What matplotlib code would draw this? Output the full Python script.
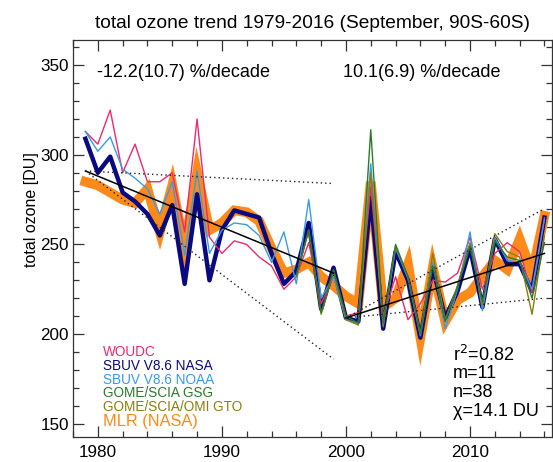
import numpy as np
import matplotlib
matplotlib.use("Agg")
import matplotlib.pyplot as plt
from matplotlib.ticker import MultipleLocator

plt.rcParams['font.family'] = ['Liberation Sans', 'DejaVu Sans']

years = list(range(1979, 2017))
years_gome = list(range(1996, 2017))

woudc = [313, 306, 325, 290, 306, 285, 285, 290, 257, 320, 254, 245, 252, 250, 243,
         238, 225, 232, 251, 217, 232, 210, 212, 282, 210, 232, 208, 217, 230, 229,
         234, 254, 225, 245, 251, 246, 223, 265]
sbuv_nasa = [309, 290, 299, 279, 274, 267, 255, 272, 228, 278, 230, 258, 269, 267, 265,
             245, 228, 235, 262, 214, 237, 209, 207, 276, 203, 246, 230, 198, 237, 209,
             224, 248, 215, 253, 239, 239, 224, 265]
sbuv_noaa = [313, 302, 310, 292, 287, 281, 267, 285, 244, 291, 245, 258, 262, 261, 255,
             240, 257, 228, 275, 220, 232, 208, 206, 295, 205, 248, 231, 199, 240, 203,
             225, 257, 213, 254, 241, 240, 225, 264]
gsg = [233, 258, 212, 236, 210, 206, 314, 206, 250, 232, 200, 238, 207, 226, 249,
       218, 252, 243, 241, 220, 251]
gto = [232, 258, 211, 235, 208, 205, 290, 204, 249, 232, 200, 245, 208, 227, 251,
       216, 256, 246, 243, 211, 255]
mlr = [285, 283, 279, 275, 273, 281, 257, 283, 248, 290, 258, 262, 269, 268, 263,
       248, 234, 236, 240, 232, 227, 221, 217, 285, 215, 220, 239, 198, 237, 207,
       219, 223, 232, 241, 236, 253, 234, 266]

pre_years = [1979, 1999]
pre_fit = [291, 234]
pre_upper = [291, 284]
pre_lower = [291, 186]
post_years = [2000, 2016]
post_fit = [209, 245]
post_upper = [209, 270]
post_lower = [209, 220]

legend_labels = ["WOUDC", "SBUV V8.6 NASA", "SBUV V8.6 NOAA", "GOME/SCIA GSG",
                 "GOME/SCIA/OMI GTO", "MLR (NASA)"]
c_woudc = "#ee2a6e"
c_nasa = "#0a0a80"
c_noaa = "#3a9ae8"
c_gsg = "#2a7a2a"
c_gto = "#8a7d12"
c_mlr = "#ff8a1a"
colors = [c_woudc, c_nasa, c_noaa, c_gsg, c_gto, c_mlr]

fig = plt.figure(figsize=(5.53, 4.62), dpi=100)
ax = fig.add_axes([0.132, 0.054, 0.866, 0.859])

ax.plot(years, mlr, color=c_mlr, lw=7, solid_joinstyle='miter', zorder=2)
ax.plot(years, sbuv_nasa, color=c_nasa, lw=3.2, zorder=3)
ax.plot(years, woudc, color=c_woudc, lw=1.0, zorder=4)
ax.plot(years, sbuv_noaa, color=c_noaa, lw=1.0, zorder=4)
ax.plot(years_gome, gto, color=c_gto, lw=1.0, zorder=4)
ax.plot(years_gome, gsg, color=c_gsg, lw=1.0, zorder=4)

dot = (0, (1, 2.2))
ax.plot(pre_years, pre_fit, color='black', lw=1.1, zorder=6)
ax.plot(pre_years, pre_upper, color='#222222', lw=1.0, ls=dot, zorder=6)
ax.plot(pre_years, pre_lower, color='#222222', lw=1.0, ls=dot, zorder=6)
ax.plot(post_years, post_fit, color='black', lw=1.1, zorder=6)
ax.plot(post_years, post_upper, color='#222222', lw=1.0, ls=dot, zorder=6)
ax.plot(post_years, post_lower, color='#222222', lw=1.0, ls=dot, zorder=6)

ax.set_xlim(1978, 2016.6)
ax.set_ylim(142.5, 364)
ax.xaxis.set_major_locator(MultipleLocator(10))
ax.xaxis.set_minor_locator(MultipleLocator(2))
ax.yaxis.set_major_locator(MultipleLocator(50))
ax.yaxis.set_minor_locator(MultipleLocator(10))
ax.tick_params(which='both', direction='in', top=True, right=True, labelsize=12.3,
               width=0.9, color='#333333')
ax.tick_params(which='major', length=8)
ax.tick_params(which='minor', length=4)
ax.tick_params(axis='x', pad=6)
ax.tick_params(axis='y', pad=3)
for s in ax.spines.values():
    s.set_linewidth(0.9)
    s.set_color('#333333')

ax.set_ylabel("total ozone [DU]", fontsize=11.5)
ax.yaxis.set_label_coords(-0.072, 0.574)
ax.set_title("total ozone trend 1979-2016 (September, 90S-60S)", fontsize=13.8, pad=9)

ax.text(0.050, 0.919, "-12.2(10.7) %/decade", transform=ax.transAxes, fontsize=13,
        va='center', ha='left')
ax.text(0.564, 0.919, "10.1(6.9) %/decade", transform=ax.transAxes, fontsize=13,
        va='center', ha='left')

leg_y = [0.215, 0.180, 0.145, 0.111, 0.076, 0.040]
for lab, col, yy in zip(legend_labels, colors, leg_y):
    fs = 11.8 if lab.startswith("MLR") else 9.8
    ax.text(0.063, yy, lab, transform=ax.transAxes, color=col, fontsize=fs,
            va='center', ha='left')

stats = [r"r$^2$=0.82", "m=11", "n=38", "\u03c7=14.1 DU"]
stat_y = [0.207, 0.161, 0.113, 0.065]
for t, yy in zip(stats, stat_y):
    ax.text(0.794, yy, t, transform=ax.transAxes, fontsize=13, va='center', ha='left')

fig.savefig("out.png", dpi=100)
